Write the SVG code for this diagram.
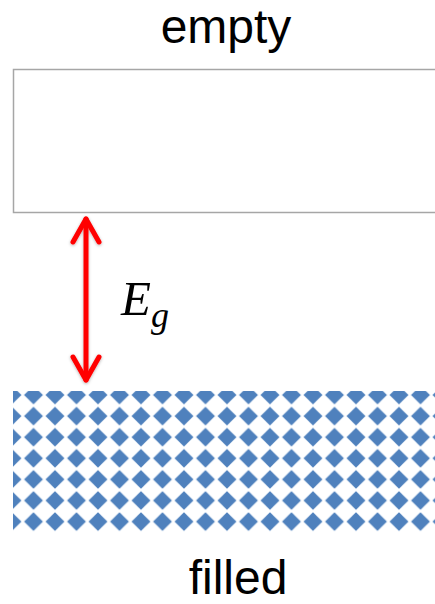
<svg xmlns="http://www.w3.org/2000/svg" width="435" height="604" viewBox="0 0 435 604">
  <style>
    .label { font-family: "Liberation Sans", Arial, sans-serif; font-size: 48px; fill: #000; text-anchor: middle; }
    .math { font-family: "Liberation Serif", "Times New Roman", serif; font-style: italic; fill: #000; }
    .band { stroke: #a6a6a6; stroke-width: 1.5; fill: #fff; }
    .arrow { stroke: #ff0000; stroke-width: 5; fill: none; stroke-linecap: round; stroke-linejoin: round; }
  </style>
  <defs>
    <pattern id="diamonds" patternUnits="userSpaceOnUse" x="1.25" y="384.45" width="21.5" height="21.1">
      <polygon points="10.75,1.1 20.2,10.55 10.75,20 1.3,10.55" fill="#4f81bd"/>
    </pattern>
    <filter id="shadow" x="-50%" y="-10%" width="200%" height="120%">
      <feDropShadow dx="0" dy="1" stdDeviation="1.5" flood-color="#000" flood-opacity="0.3"/>
    </filter>
  </defs>

  <g id="empty-band">
    <path class="band" d="M440,69.5 H13.5 V212.5 H440"/>
    <text class="label" x="226" y="43">empty</text>
  </g>

  <g id="filled-band">
    <rect x="13" y="391" width="422" height="142" fill="url(#diamonds)"/>
    <text class="label" x="238" y="594">filled</text>
  </g>

  <g id="connectors">
    <g class="arrow" filter="url(#shadow)">
      <line x1="86" y1="219" x2="86" y2="380"/>
      <polyline points="73,242 86,219 99,242"/>
      <polyline points="73,357 86,380 99,357"/>
    </g>
    <text class="math" x="121" y="315" font-size="49">E<tspan font-size="36" dy="12">g</tspan></text>
  </g>
</svg>
